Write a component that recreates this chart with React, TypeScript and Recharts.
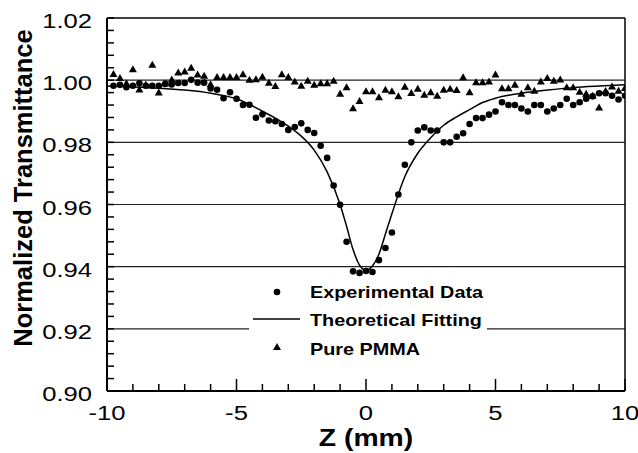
import React from 'react';
import { ComposedChart, Line, Scatter, XAxis, YAxis, ReferenceLine, Label } from 'recharts';

// scan positions (mm) shared by the measured series
const scanZ = [
  -9.75, -9.5, -9.25, -9, -8.75, -8.5, -8.25, -8, -7.75, -7.5, -7.25, -7, -6.75, -6.5, -6.25, -6,
  -5.75, -5.5, -5.25, -5, -4.75, -4.5, -4.25, -4, -3.75, -3.5, -3.25, -3, -2.75, -2.5, -2.25, -2,
  -1.75, -1.5, -1.25, -1, -0.75, -0.5, -0.25, 0, 0.25, 0.5, 0.75, 1, 1.25, 1.5, 1.75, 2,
  2.25, 2.5, 2.75, 3, 3.25, 3.5, 3.75, 4, 4.25, 4.5, 4.75, 5, 5.25, 5.5, 5.75, 6,
  6.25, 6.5, 6.75, 7, 7.25, 7.5, 7.75, 8, 8.25, 8.5, 8.75, 9, 9.25, 9.5, 9.75, 10,
];

const experimentalT = [
  0.9982, 0.9985, 0.9977, 0.9982, 0.9990, 0.9982, 0.9982, 0.9982, 0.9988, 0.9986, 0.9991, 0.9991, 1.0001, 0.9992, 0.9992, 0.9973,
  0.9969, 0.9942, 0.9961, 0.9940, 0.9920, 0.9921, 0.9879, 0.9890, 0.9870, 0.9868, 0.9859, 0.9840, 0.9849, 0.9861, 0.9840, 0.9830,
  0.9789, 0.9750, 0.9661, 0.9599, 0.9480, 0.9385, 0.9380, 0.9386, 0.9383, 0.9421, 0.9460, 0.9510, 0.9632, 0.9728, 0.9800, 0.9838,
  0.9848, 0.9838, 0.9838, 0.9800, 0.9800, 0.9818, 0.9829, 0.9859, 0.9878, 0.9878, 0.9889, 0.9899, 0.9929, 0.9920, 0.9920, 0.9909,
  0.9899, 0.9920, 0.9920, 0.9899, 0.9909, 0.9920, 0.9940, 0.9920, 0.9929, 0.9940, 0.9948, 0.9958, 0.9958, 0.9950, 0.9938, 0.9950,
];

const pmmaT = [
  1.0020, 1.0007, 0.9990, 1.0035, 0.9970, 0.9985, 1.0050, 0.9960, 0.9990, 1.0002, 1.0025, 1.0028, 1.0040, 1.0018, 1.0014, 0.9987,
  1.0010, 1.0010, 1.0010, 1.0010, 1.0019, 1.0001, 1.0003, 1.0011, 0.9992, 0.9981, 1.0019, 1.0010, 0.9996, 0.9982, 0.9998, 0.9985,
  0.9990, 0.9990, 0.9998, 0.9956, 0.9977, 0.9910, 0.9933, 0.9964, 0.9964, 0.9945, 0.9969, 0.9964, 0.9948, 0.9979, 0.9959, 0.9972,
  0.9953, 0.9961, 0.9950, 0.9969, 0.9972, 0.9968, 1.0009, 0.9961, 0.9993, 0.9993, 0.9996, 1.0018, 0.9974, 0.9974, 0.9985, 0.9956,
  0.9977, 0.9966, 0.9996, 1.0007, 0.9998, 1.0002, 0.9977, 0.9977, 0.9963, 0.9956, 0.9950, 0.9912, 0.9965, 0.9980, 0.9966, 0.9975,
];

// theoretical fitting curve
const fitZ = [-10, -9, -8, -7, -6, -5, -4.5, -4, -3.5, -3, -2.5, -2, -1.5, -1, -0.75, -0.5, -0.25, 0, 0.25, 0.5, 0.75, 1, 1.5, 2, 2.5, 3, 3.5, 4, 4.5, 5, 6, 7, 8, 9, 10];
const fitT = [
  0.9981, 0.9978, 0.9974, 0.9968, 0.9958, 0.9940, 0.9922, 0.9900, 0.9878, 0.9852, 0.9820, 0.9775, 0.9705, 0.9600, 0.9530, 0.9455, 0.9405, 0.9388,
  0.9402, 0.9440, 0.9505, 0.9570, 0.9690, 0.9765, 0.9815, 0.9855, 0.9882, 0.9905, 0.9928, 0.9942, 0.9958, 0.9968, 0.9976, 0.9981, 0.9985,
];

const xTicks = [-10, -9, -8, -7, -6, -5, -4, -3, -2, -1, 0, 1, 2, 3, 4, 5, 6, 7, 8, 9, 10];
const xTickLabels = [-10, -5, 0, 5, 10];
const yTicks = [
  0.9, 0.904, 0.908, 0.912, 0.916, 0.92, 0.924, 0.928, 0.932, 0.936, 0.94, 0.944, 0.948, 0.952, 0.956, 0.96,
  0.964, 0.968, 0.972, 0.976, 0.98, 0.984, 0.988, 0.992, 0.996, 1.0, 1.004, 1.008, 1.012, 1.016, 1.02,
];
const yTickLabels = [0.9, 0.92, 0.94, 0.96, 0.98, 1.0, 1.02];
const gridValues = [0.92, 0.94, 0.96, 0.98, 1.0];

const expData = scanZ.map((z, i) => ({ z, t: experimentalT[i] }));
const pmmaData = scanZ.map((z, i) => ({ z, t: pmmaT[i] }));
const fitData = fitZ.map((z, i) => ({ z, t: fitT[i] }));

const FONT = '"Liberation Sans", Arial, Helvetica, sans-serif';
const STRETCH = 1.22;

const XTick = (props: any) => {
  const { x, y, payload } = props;
  const major = xTickLabels.includes(payload.value);
  return (
    <g>
      <line x1={x} x2={x} y1={y} y2={y - (major ? 12 : 7)} stroke="#000" strokeWidth={1.5} />
      {major && (
        <text transform={`translate(${x},${y + 29}) scale(${STRETCH},1)`} textAnchor="middle" fontFamily={FONT} fontSize={21} fill="#000">
          {payload.value}
        </text>
      )}
    </g>
  );
};

const YTick = (props: any) => {
  const { x, y, payload } = props;
  const major = yTickLabels.includes(payload.value);
  return (
    <g>
      <line x1={x} x2={x + 7} y1={y} y2={y} stroke="#000" strokeWidth={1.5} />
      {major && (
        <text transform={`translate(${x - 15},${y + 10}) scale(${STRETCH},1)`} textAnchor="end" fontFamily={FONT} fontSize={21} fill="#000">
          {Number(payload.value).toFixed(2)}
        </text>
      )}
    </g>
  );
};

const Dot = (p: any) => <circle cx={p.cx} cy={p.cy} r={3.3} fill="#000" />;
const Tri = (p: any) => (
  <polygon points={`${p.cx},${p.cy - 4} ${p.cx - 4},${p.cy + 3} ${p.cx + 4},${p.cy + 3}`} fill="#000" />
);

const LegendBox: React.FC = () => (
  <div style={{ position: 'absolute', left: 249, top: 281, width: 238, height: 77, background: '#fff' }}>
    <svg width={238} height={77}>
      <circle cx={28} cy={11} r={3.3} fill="#000" />
      <text transform={`translate(61,16.5) scale(1.24,1)`} fontFamily={FONT} fontWeight="bold" fontSize={16} fill="#000">Experimental Data</text>
      <line x1={4} x2={51} y1={38} y2={38} stroke="#000" strokeWidth={1.5} />
      <text transform={`translate(61,44.5) scale(1.24,1)`} fontFamily={FONT} fontWeight="bold" fontSize={16} fill="#000">Theoretical Fitting</text>
      <polygon points="28,62 24,69 32,69" fill="#000" />
      <text transform={`translate(61,73.5) scale(1.24,1)`} fontFamily={FONT} fontWeight="bold" fontSize={16} fill="#000">Pure PMMA</text>
    </svg>
  </div>
);

const App: React.FC = () => {
  return (
    <div style={{ position: 'absolute', left: 0, top: 0, width: 638, height: 453, background: '#fff' }}>
      <ComposedChart width={638} height={453} margin={{ top: 18, right: 13, left: 0, bottom: 0 }}>
        <XAxis
          dataKey="z"
          type="number"
          domain={[-10, 10]}
          ticks={xTicks}
          interval={0}
          allowDataOverflow
          height={62}
          tickSize={0}
          tickMargin={0}
          tickLine={false}
          tick={<XTick />}
          axisLine={{ stroke: '#000', strokeWidth: 2 }}
        >
          <Label
            content={() => (
              <text transform={`translate(366,446) scale(1.18,1)`} textAnchor="middle" fontFamily={FONT} fontWeight="bold" fontSize={24} fill="#000">
                Z (mm)
              </text>
            )}
          />
        </XAxis>
        <YAxis
          type="number"
          domain={[0.9, 1.02]}
          ticks={yTicks}
          interval={0}
          allowDataOverflow
          width={107}
          tickSize={0}
          tickMargin={0}
          tickLine={false}
          tick={<YTick />}
          axisLine={{ stroke: '#000', strokeWidth: 2 }}
        >
          <Label
            content={() => (
              <text transform="translate(32,188) rotate(-90)" textAnchor="middle" fontFamily={FONT} fontWeight="bold" fontSize={25.5} fill="#000">
                Normalized Transmittance
              </text>
            )}
          />
        </YAxis>
        {gridValues.map((v) => (
          <ReferenceLine key={v} y={v} stroke="#222" strokeWidth={1.2} />
        ))}
        <ReferenceLine y={1.02} stroke="#000" strokeWidth={1.5} />
        <ReferenceLine x={10} stroke="#000" strokeWidth={1.5} />
        <Line data={fitData} dataKey="t" type="monotone" stroke="#000" strokeWidth={1.5} dot={false} isAnimationActive={false} />
        <Scatter data={expData} dataKey="t" shape={Dot} isAnimationActive={false} />
        <Scatter data={pmmaData} dataKey="t" shape={Tri} isAnimationActive={false} />
      </ComposedChart>
      <LegendBox />
    </div>
  );
};

export default App;
